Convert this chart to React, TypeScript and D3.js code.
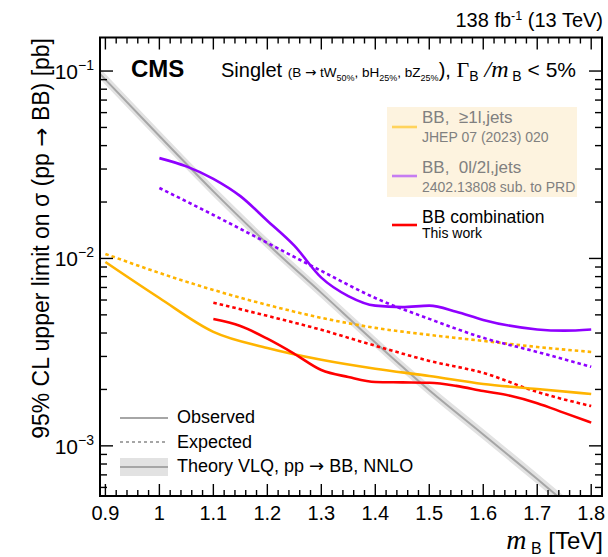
import * as d3 from "d3";

// mass points (TeV)
const MASS = [0.9, 1.0, 1.1, 1.2, 1.3, 1.4, 1.5, 1.6, 1.7, 1.8];
const THEORY_MASS = [0.85, 0.9, 1.0, 1.1, 1.2, 1.3, 1.4, 1.5, 1.6, 1.7, 1.8];
const THEORY = [0.128, 0.09, 0.045, 0.0228, 0.01197, 0.00655, 0.00356, 0.00198, 0.00115, 0.000665, 0.00038];
const THEORY_LO = [0.12, 0.0846, 0.0423, 0.0214, 0.01125, 0.00616, 0.00335, 0.00186, 0.00108, 0.000625, 0.000357];
const THEORY_HI = [0.137, 0.0963, 0.0482, 0.0244, 0.01281, 0.00701, 0.00381, 0.00212, 0.00123, 0.000712, 0.000407];

// >=1l, jets (JHEP 07 (2023) 020)
const LEP_OBS = [0.00957, 0.00615, 0.00406, 0.00333, 0.00288, 0.00258, 0.00236, 0.00214, 0.00201, 0.00189];
const LEP_EXP = [0.01057, 0.00837, 0.00679, 0.00565, 0.00482, 0.00426, 0.00391, 0.00363, 0.00337, 0.00317];

// 0l/2l, jets (2402.13808)
const HAD_OBS_MASS = [1.0, 1.05, 1.1, 1.15, 1.2, 1.25, 1.3, 1.35, 1.4, 1.45, 1.5, 1.55, 1.6, 1.7, 1.75, 1.8];
const HAD_OBS = [0.0343, 0.031, 0.0266, 0.0215, 0.0159, 0.0117, 0.0079, 0.0063, 0.0056, 0.0055, 0.0056, 0.0052, 0.0047, 0.00418, 0.00412, 0.00418];
const HAD_EXP_MASS = [1.0, 1.1, 1.2, 1.3, 1.4, 1.5, 1.6, 1.7, 1.8];
const HAD_EXP = [0.02377, 0.01706, 0.01211, 0.00858, 0.00615, 0.00476, 0.00377, 0.00317, 0.00264];

// combination (this work)
const COMB_OBS_MASS = [1.1, 1.15, 1.2, 1.25, 1.3, 1.35, 1.4, 1.45, 1.5, 1.55, 1.6, 1.65, 1.7, 1.75, 1.8];
const COMB_OBS = [0.00475, 0.00436, 0.00373, 0.0031, 0.00254, 0.00233, 0.00219, 0.00218, 0.00217, 0.00209, 0.00196, 0.00185, 0.00169, 0.0015, 0.00133];
const COMB_EXP_MASS = [1.1, 1.2, 1.3, 1.4, 1.5, 1.6, 1.7, 1.8];
const COMB_EXP = [0.0058, 0.00494, 0.00416, 0.00342, 0.00284, 0.00245, 0.00194, 0.00163];

const X_TICKS = [0.9, 1.0, 1.1, 1.2, 1.3, 1.4, 1.5, 1.6, 1.7, 1.8];
const X_LABELS = ["0.9", "1", "1.1", "1.2", "1.3", "1.4", "1.5", "1.6", "1.7", "1.8"];
const Y_DECADES = [-3, -2, -1];

const YELLOW = "#ffb400";
const PURPLE = "#8f00ff";
const RED = "#ff0000";
const FONT = "'Liberation Sans', Arial, Helvetica, sans-serif";
const SERIF = "'Liberation Serif', 'Times New Roman', serif";
const ARROW = "'DejaVu Sans', sans-serif";

const W = 608;
const H = 557;
const L = 100, R = 602, T = 37.5, B = 496;

export default function App() {
  const x = d3.scaleLinear().domain([0.89, 1.82]).range([L, R]);
  const y = d3.scaleLog().domain([5.4e-4, 0.151]).range([B, T]);

  const path = (ms: number[], vs: number[]) =>
    d3
      .line<number>()
      .x((_, i) => x(ms[i]))
      .y((d) => y(d))
      .curve(d3.curveMonotoneX)(vs) ?? "";

  const band =
    d3
      .area<number>()
      .x((_, i) => x(THEORY_MASS[i]))
      .y0((_, i) => y(THEORY_LO[i]))
      .y1((_, i) => y(THEORY_HI[i]))
      .curve(d3.curveMonotoneX)(THEORY) ?? "";

  // minor ticks
  const xMinor = d3.range(0, 47).map((i) => 0.9 + i * 0.02).filter((v) => v <= 1.82 && Math.round(v * 100) % 10 !== 0);
  const yMinor: number[] = [];
  for (const d of [-4, -3, -2, -1]) {
    for (let k = 2; k <= 9; k++) {
      const v = k * Math.pow(10, d);
      if (v > 5.4e-4 && v < 0.151) yMinor.push(v);
    }
  }

  return (
    <svg
      width={W}
      height={H}
      style={{ position: "absolute", left: 0, top: 0, background: "#fff" }}
      fontFamily={FONT}
    >
      <defs>
        <clipPath id="plot">
          <rect x={L} y={T} width={R - L} height={B - T} />
        </clipPath>
      </defs>

      <g clipPath="url(#plot)">
        <path d={band} fill="#e2e2e2" />
        <path d={path(THEORY_MASS, THEORY)} fill="none" stroke="#a6a6a6" strokeWidth={2} />

        <path d={path(MASS, LEP_EXP)} fill="none" stroke={YELLOW} strokeWidth={2.6} strokeDasharray="3.5,3" />
        <path d={path(HAD_EXP_MASS, HAD_EXP)} fill="none" stroke={PURPLE} strokeWidth={2.6} strokeDasharray="3.5,3" />
        <path d={path(COMB_EXP_MASS, COMB_EXP)} fill="none" stroke={RED} strokeWidth={2.6} strokeDasharray="3.5,3" />

        <path d={path(MASS, LEP_OBS)} fill="none" stroke={YELLOW} strokeWidth={2.6} />
        <path d={path(HAD_OBS_MASS, HAD_OBS)} fill="none" stroke={PURPLE} strokeWidth={2.6} />
        <path d={path(COMB_OBS_MASS, COMB_OBS)} fill="none" stroke={RED} strokeWidth={2.6} />
      </g>

      {/* ticks */}
      <g stroke="#000" strokeWidth={1.4}>
        {X_TICKS.map((t) => (
          <g key={`xt${t}`}>
            <line x1={x(t)} x2={x(t)} y1={B} y2={B - 12} />
            <line x1={x(t)} x2={x(t)} y1={T} y2={T + 12} />
          </g>
        ))}
        {xMinor.map((t) => (
          <g key={`xm${t}`}>
            <line x1={x(t)} x2={x(t)} y1={B} y2={B - 6} />
            <line x1={x(t)} x2={x(t)} y1={T} y2={T + 6} />
          </g>
        ))}
        {Y_DECADES.map((d) => (
          <g key={`yt${d}`}>
            <line x1={L} x2={L + 13} y1={y(Math.pow(10, d))} y2={y(Math.pow(10, d))} />
            <line x1={R} x2={R - 13} y1={y(Math.pow(10, d))} y2={y(Math.pow(10, d))} />
          </g>
        ))}
        {yMinor.map((v) => (
          <g key={`ym${v}`}>
            <line x1={L} x2={L + 7} y1={y(v)} y2={y(v)} />
            <line x1={R} x2={R - 7} y1={y(v)} y2={y(v)} />
          </g>
        ))}
      </g>
      <rect x={L} y={T} width={R - L} height={B - T} fill="none" stroke="#000" strokeWidth={2} />

      {/* tick labels */}
      <g fontSize={20} fill="#000" textAnchor="middle">
        {X_TICKS.map((t, i) => (
          <text key={`xl${t}`} x={x(t)} y={519.5}>
            {X_LABELS[i]}
          </text>
        ))}
      </g>
      <g fontSize={21} fill="#000" textAnchor="end">
        {Y_DECADES.map((d) => (
          <text key={`yl${d}`} x={94} y={y(Math.pow(10, d)) + 8}>
            10
            <tspan fontSize={14} dy={-9}>
              {`\u2212${-d}`}
            </tspan>
          </text>
        ))}
      </g>

      {/* axis titles */}
      <text
        transform="translate(49,38) rotate(-90)"
        textAnchor="end"
        fontSize={23}
      >
        95% CL upper limit on σ (pp <tspan fontFamily={ARROW}>→</tspan> BB) [pb]
      </text>
      <text x={603} y={549} textAnchor="end" fontSize={24}>
        <tspan fontFamily={SERIF} fontStyle="italic" fontSize={28}>m</tspan>
        <tspan fontSize={16} dy={5}>{"\u00a0B"}</tspan>
        <tspan dy={-5}> [TeV]</tspan>
      </text>

      {/* header */}
      <text x={603} y={27} textAnchor="end" fontSize={20}>
        138 fb<tspan fontSize={12.5} dy={-7}>-1</tspan>
        <tspan dy={7}> (13 TeV)</tspan>
      </text>
      <text x={131} y={77} fontSize={24} fontWeight="bold">
        CMS
      </text>
      <text x={221} y={77} fontSize={20}>
        Singlet{" "}
        <tspan fontSize={13.5}>(B </tspan>
        <tspan fontSize={13.5} fontFamily={ARROW}>→</tspan>
        <tspan fontSize={13.5}> tW</tspan>
        <tspan fontSize={9} dy={3.5}>50%</tspan>
        <tspan fontSize={13.5} dy={-3.5}>, bH</tspan>
        <tspan fontSize={9} dy={3.5}>25%</tspan>
        <tspan fontSize={13.5} dy={-3.5}>, bZ</tspan>
        <tspan fontSize={9} dy={3.5}>25%</tspan>
        <tspan fontSize={20} dy={-3.5}>), </tspan>
        <tspan fontFamily={SERIF} fontSize={22}>Γ</tspan>
        <tspan fontSize={14} dy={4}>B</tspan>
        <tspan fontFamily={SERIF} fontStyle="italic" fontSize={24} dy={-4}>{"\u00a0/m"}</tspan>
        <tspan fontSize={14} dy={4}>{"\u00a0B"}</tspan>
        <tspan dy={-4} fontSize={21}>{"\u00a0< 5%"}</tspan>
      </text>

      {/* legend, top right */}
      <rect x={387} y={107} width={190} height={90} fill="#fdf3df" />
      <line x1={392} x2={417} y1={127} y2={127} stroke="#ffd35c" strokeWidth={2.6} />
      <text x={422} y={122.7} fontSize={17} fill="#808080">
        {"BB,\u00a0\u00a0≥1l,jets"}
      </text>
      <text x={422} y={141.7} fontSize={14} fill="#808080">
        JHEP 07 (2023) 020
      </text>
      <line x1={392} x2={417} y1={176} y2={176} stroke="#c67cf2" strokeWidth={2.6} />
      <text x={422} y={172.7} fontSize={17} fill="#808080">
        {"BB,\u00a0\u00a00l/2l,jets"}
      </text>
      <text x={422} y={191.7} fontSize={14} fill="#808080">
        2402.13808 sub. to PRD
      </text>
      <line x1={392} x2={417} y1={225} y2={225} stroke={RED} strokeWidth={2.6} />
      <text x={422} y={222.7} fontSize={17.5}>
        BB combination
      </text>
      <text x={422} y={238.3} fontSize={14}>
        This work
      </text>

      {/* legend, bottom left */}
      <line x1={120} x2={168} y1={418} y2={418} stroke="#a6a6a6" strokeWidth={2} />
      <text x={177} y={423} fontSize={18}>Observed</text>
      <line x1={120} x2={168} y1={442} y2={442} stroke="#a6a6a6" strokeWidth={2} strokeDasharray="3,3" />
      <text x={177} y={448} fontSize={18}>Expected</text>
      <rect x={120} y={458} width={48} height={18} fill="#e2e2e2" />
      <line x1={120} x2={168} y1={467} y2={467} stroke="#a6a6a6" strokeWidth={2} />
      <text x={177} y={472} fontSize={18}>
        Theory VLQ, pp <tspan fontFamily={ARROW}>→</tspan> BB, NNLO
      </text>
    </svg>
  );
}
